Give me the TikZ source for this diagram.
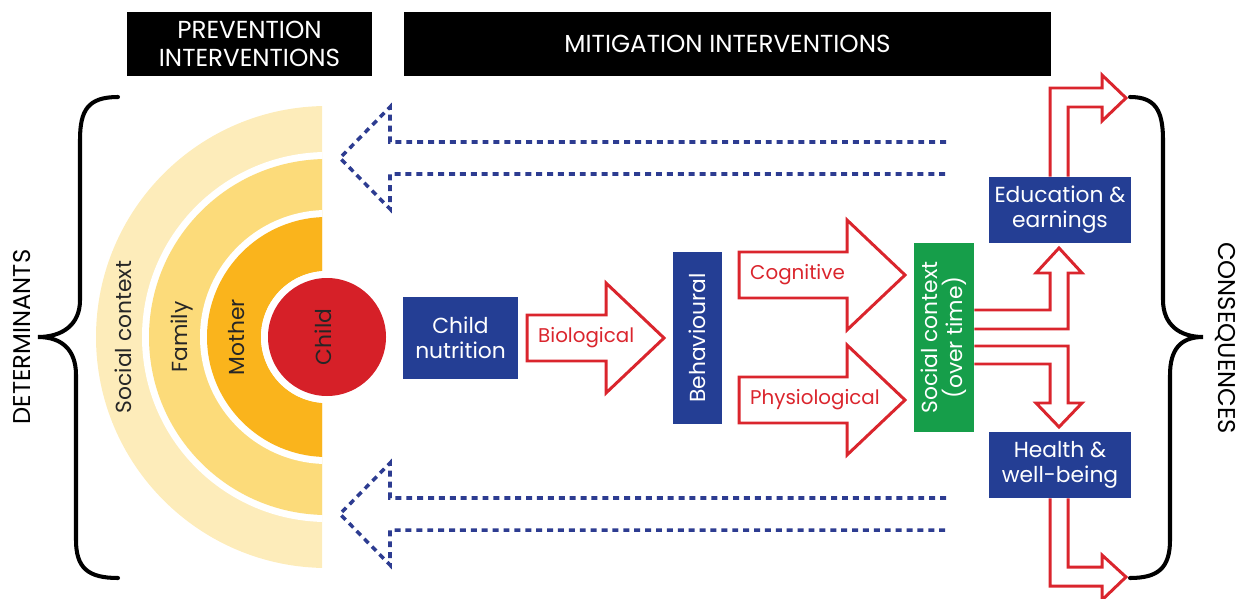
\documentclass[tikz,border=0pt]{standalone}
\usepackage{fontspec}
\setmainfont{Poppins}
\definecolor{socialc}{RGB}{253,236,186}
\definecolor{familyc}{RGB}{252,219,122}
\definecolor{motherc}{RGB}{250,180,28}
\definecolor{childc}{RGB}{214,32,40}
\definecolor{boxblue}{RGB}{36,62,148}
\definecolor{dotblue}{RGB}{45,60,145}
\definecolor{arrred}{RGB}{218,37,45}
\definecolor{boxgreen}{RGB}{22,158,74}
\begin{document}
\begin{tikzpicture}[x=0.02cm,y=-0.02cm,line join=miter,font=\fontsize{12.4}{14.2}\selectfont,
	head/.style={fill=black,text=white,font=\fontsize{14}{15.5}\selectfont,align=center,minimum height=1.28cm},
	bbox/.style={fill=boxblue,text=white,align=center,inner sep=0pt},
	gbox/.style={fill=boxgreen,text=white,align=center,inner sep=0pt},
	redarrow/.style={draw=arrred,line width=1.7pt},
	dotarrow/.style={draw=dotblue,line width=2pt,dash pattern=on 3.4pt off 2.8pt},
	brace/.style={line width=2.3pt,line cap=round},
	side/.style={font=\fontsize{13.8}{15}\selectfont},
	ring/.style={rotate=90,text=black!85}]
	\useasboundingbox (0,0) rectangle (1243,598);
	\path (327,337) coordinate (ctr);
	% headers
	\node[head,minimum width=4.9cm] (prev) at (249.5,44) {PREVENTION\\INTERVENTIONS};
	\node[head,minimum width=12.94cm] (mitig) at (727.5,44) {MITIGATION INTERVENTIONS};
	% half rings
	\begin{scope}
		\clip (0,0) rectangle (322,598);
		\foreach \r/\c in {231/socialc,185/white,178/familyc,127/white,120/motherc,66/white}
			\fill[\c] (ctr) circle (\r);
	\end{scope}
	\fill[white] (ctr) circle (66);
	\fill[childc] (ctr) circle (59);
	\foreach \x/\t in {123/Social context,182/Family,237/Mother,323/Child}
		\node[ring] at (\x,337) {\t};
	% dotted arrows back to the rings
	\foreach \yc in {158,514}
		\draw[dotarrow] (946,\yc-16) -- (390,\yc-16) -- (390,\yc-51) -- (340,\yc) -- (390,\yc+51) -- (390,\yc+16) -- (946,\yc+16);
	% boxes
	\node[bbox,minimum width=2.3cm,minimum height=1.64cm] (nutr) at (460.5,338) {Child\\nutrition};
	\node[bbox,rotate=90,minimum width=3.44cm,minimum height=0.98cm] (behav) at (697.5,338) {Behavioural};
	\node[gbox,rotate=90,minimum width=3.78cm,minimum height=1.2cm] (soc) at (944,337.5) {Social context\\(over time)};
	\node[bbox,minimum width=2.84cm,minimum height=1.32cm] (edu) at (1060,210) {Education \&\\earnings};
	\node[bbox,minimum width=2.84cm,minimum height=1.32cm] (health) at (1060,465) {Health \&\\well-being};
	% pathways
	\foreach \xa/\xb/\yc/\t in {527/664/338/Biological,739/905/275/Cognitive,739/905/400/Physiological}{
		\draw[redarrow] (\xa,\yc-23) -- (\xb-58,\yc-23) -- (\xb-58,\yc-55) -- (\xb,\yc) -- (\xb-58,\yc+55) -- (\xb-58,\yc+23) -- (\xa,\yc+23) -- cycle;
		\node[anchor=west,text=arrred,font=\fontsize{11.3}{13}\selectfont] at (\xa+5,\yc) {\t};}
	\draw[redarrow] (soc.south |- 0,310) -- (1050,310) -- (1050,273) -- (1036,273) -- (1059,248) -- (1082,273) -- (1068,273) -- (1068,329) -- (soc.south |- 0,329);
	\draw[redarrow] (soc.south |- 0,346) -- (1068,346) -- (1068,403) -- (1082,403) -- (1059,427) -- (1036,403) -- (1050,403) -- (1050,364) -- (soc.south |- 0,364);
	\draw[redarrow] (edu.north -| 1050,0) -- (1050,88) -- (1102,88) -- (1102,75) -- (1126,98) -- (1102,121) -- (1102,107) -- (1068,107) -- (edu.north -| 1068,0);
	\draw[redarrow] (health.south -| 1068,0) -- (1068,567) -- (1102,567) -- (1102,555) -- (1126,577) -- (1102,600) -- (1102,586) -- (1050,586) -- (health.south -| 1050,0);
	% braces
	\draw[brace] (118,97) .. controls (88,97) and (80,110) .. (80,140) -- (80,300) .. controls (80,325) and (62,337) .. (38,337) .. controls (62,337) and (76,350) .. (76,375) -- (76,540) .. controls (76,568) and (88,578) .. (118,578);
	\draw[brace] (1130,97) .. controls (1155,97) and (1163,110) .. (1163,140) -- (1163,300) .. controls (1163,325) and (1180,337) .. (1203,337) .. controls (1180,337) and (1170,350) .. (1170,375) -- (1170,540) .. controls (1170,568) and (1158,578) .. (1130,578);
	\node[side,rotate=90] (det) at (22,337) {DETERMINANTS};
	\node[side,rotate=-90] (cons) at (1225,338) {CONSEQUENCES};
\end{tikzpicture}
\end{document}
